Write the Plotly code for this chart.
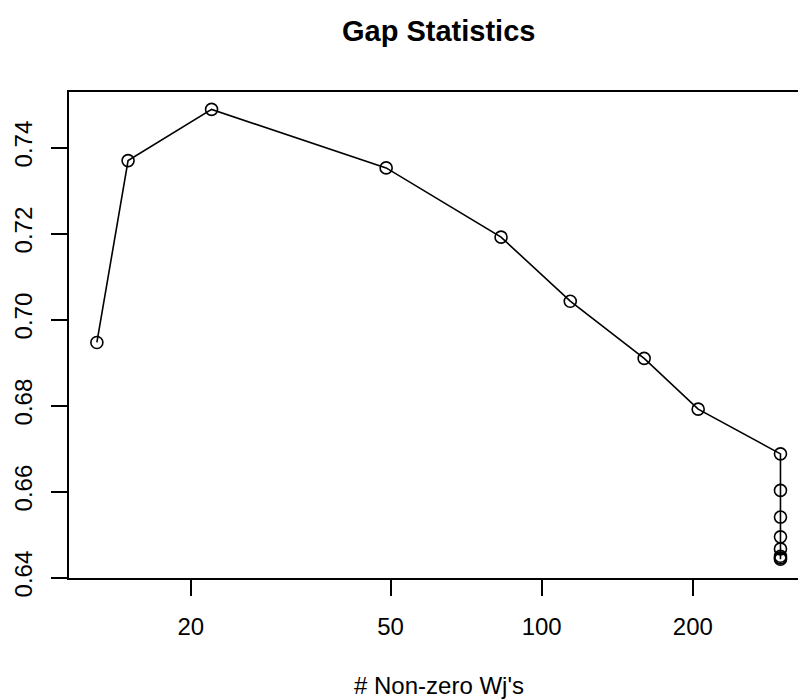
import plotly.graph_objects as go

# Number of non-zero feature weights for each tuning value, and its gap statistic
nonzero_w = [13, 15, 22, 49, 83, 114, 160, 205, 299, 299, 299, 299, 299, 299, 299, 299]
gap_stat = [0.6947, 0.7370, 0.7489, 0.7353, 0.7192, 0.7043, 0.6910, 0.6792,
            0.6688, 0.6603, 0.6541, 0.6495, 0.6467, 0.6450, 0.6446, 0.6443]

x_ticks = [20, 50, 100, 200]
y_ticks = [0.64, 0.66, 0.68, 0.70, 0.72, 0.74]

FONT = "Liberation Sans, Arial, Helvetica, sans-serif"

fig = go.Figure()
fig.add_trace(go.Scatter(
    x=nonzero_w, y=gap_stat,
    mode="lines+markers",
    line=dict(color="black", width=1.6),
    marker=dict(symbol="circle-open", size=12, color="black",
                line=dict(color="black", width=1.6)),
    showlegend=False,
))

fig.update_layout(
    width=798, height=700,
    margin=dict(l=69, r=0, t=92, b=122),
    paper_bgcolor="white", plot_bgcolor="white",
    font=dict(family=FONT, color="black", size=24),
    xaxis=dict(
        type="log", range=[1.0584, 2.5106],
        tickmode="array", tickvals=x_ticks, ticktext=[str(v) for v in x_ticks],
        showgrid=False, zeroline=False,
        showline=True, mirror=True, linecolor="black", linewidth=1.5,
        ticks="outside", ticklen=16, tickwidth=1.5, tickcolor="black",
        ticklabelstandoff=10,
        tickfont=dict(size=24, family=FONT, color="black"),
    ),
    yaxis=dict(
        range=[0.63993, 0.75295],
        tickmode="array", tickvals=y_ticks, ticktext=[f"{v:.2f}" for v in y_ticks],
        tickangle=-90,
        showgrid=False, zeroline=False,
        showline=True, mirror=False, linecolor="black", linewidth=1.5,
        ticks="outside", ticklen=16, tickwidth=1.5, tickcolor="black",
        ticklabelstandoff=10,
        tickfont=dict(size=24, family=FONT, color="black"),
    ),
    annotations=[
        dict(text="<b>Gap Statistics</b>", xref="paper", yref="paper",
             x=0.5071, y=1.1255, xanchor="center", yanchor="middle",
             showarrow=False, font=dict(size=29, family=FONT, color="black")),
        dict(text="# Non-zero Wj's", xref="paper", yref="paper",
             x=0.5071, y=-0.2222, xanchor="center", yanchor="middle",
             showarrow=False, font=dict(size=24, family=FONT, color="black")),
    ],
)

fig.write_html("out.html")
